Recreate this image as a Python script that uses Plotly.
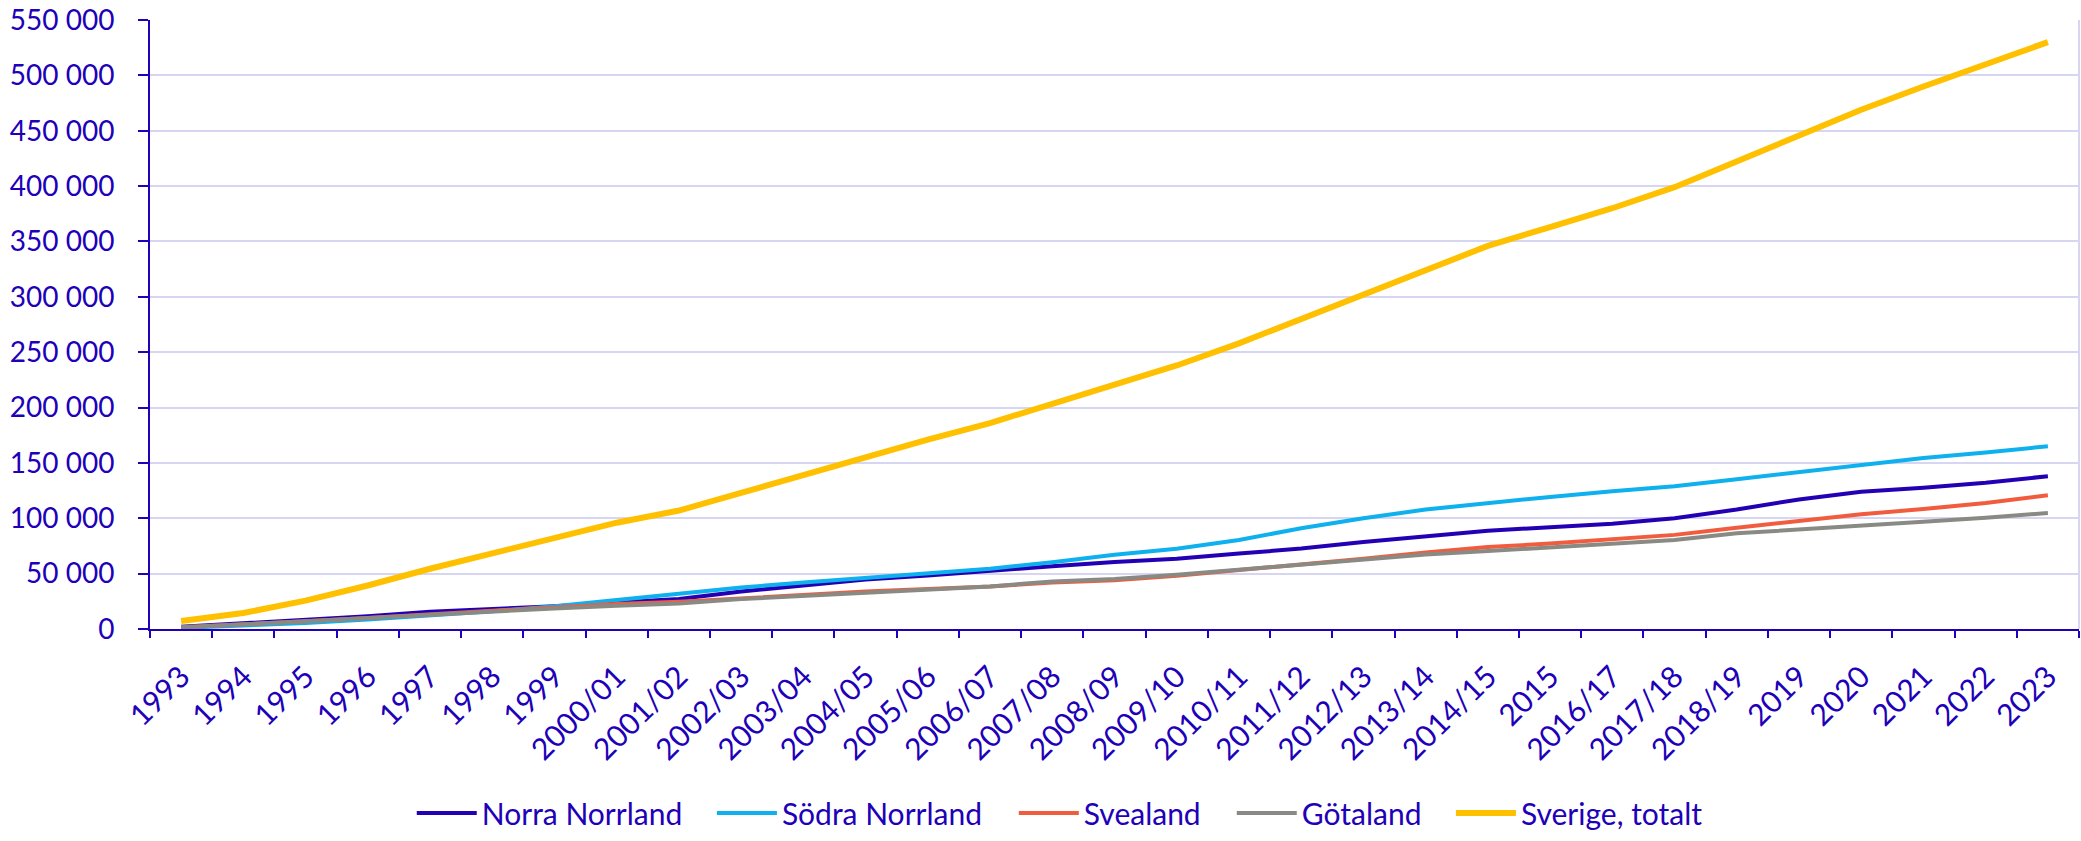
import plotly.graph_objects as go

categories = ["1993", "1994", "1995", "1996", "1997", "1998", "1999", "2000/01", "2001/02",
              "2002/03", "2003/04", "2004/05", "2005/06", "2006/07", "2007/08", "2008/09",
              "2009/10", "2010/11", "2011/12", "2012/13", "2013/14", "2014/15", "2015",
              "2016/17", "2017/18", "2018/19", "2019", "2020", "2021", "2022", "2023"]

norra_norrland = [2000, 5000, 8500, 11500, 15500, 18000, 20500, 24000, 27000, 33800, 39300,
                  44800, 48400, 52100, 56700, 60500, 63500, 68100, 72700, 78600, 83200, 88700,
                  91900, 95000, 100100, 107900, 117000, 123900, 127500, 132100, 138000]
sodra_norrland = [1000, 3000, 5500, 8500, 12000, 16000, 20500, 26000, 31500, 37500, 42000,
                  46200, 49800, 54400, 60300, 67000, 72500, 80400, 91000, 100100, 107900, 113800,
                  119300, 124500, 128900, 135300, 141700, 149000, 154500, 159500, 165000]
svealand = [1500, 4000, 7000, 10000, 13500, 16500, 19500, 22500, 24500, 27900, 30600,
            33800, 36100, 38400, 42000, 44100, 48000, 53000, 57600, 63500, 69000, 74000,
            77200, 80900, 85000, 91400, 97800, 103700, 108300, 113800, 120700]
gotaland = [1500, 4000, 7000, 10000, 13000, 16000, 18500, 21000, 23000, 27000, 30000,
            32900, 35600, 38400, 43000, 45200, 49000, 53500, 58000, 62600, 67200, 70400,
            73600, 76800, 80400, 86400, 89600, 93200, 96900, 100500, 104700]
sverige_totalt = [7300, 14500, 25600, 39300, 54400, 68100, 81800, 96000, 107000, 123000, 140000,
                  155000, 171000, 186000, 203000, 220000, 238000, 258000, 280000, 303000, 325000,
                  346000, 363000, 380000, 399000, 422000, 445000, 469000, 490000, 510000, 530000]

y_ticks = list(range(0, 550001, 50000))
y_tick_labels = [f"{v:,}".replace(",", " ") for v in y_ticks]

series = [
    ("Norra Norrland", norra_norrland, "#2400B4", 4.0),
    ("Södra Norrland", sodra_norrland, "#0FB0EE", 4.0),
    ("Svealand", svealand, "#F25C3E", 4.0),
    ("Götaland", gotaland, "#8A8A84", 4.0),
    ("Sverige, totalt", sverige_totalt, "#FFC000", 6.0),
]
# legend entry positions (paper x) for each series
legend_x = [0.1357, 0.2913, 0.4478, 0.5608, 0.6744]

text_color = "#2000B8"
grid_color = "#D6D6F2"

fig = go.Figure()
legend_layout = {}
for i, ((name, vals, color, width), lx) in enumerate(zip(series, legend_x)):
    key = "legend" if i == 0 else f"legend{i + 1}"
    fig.add_trace(go.Scatter(x=categories, y=vals, name=name, mode="lines",
                             line=dict(color=color, width=width), legend=key))
    legend_layout[key] = dict(orientation="h", x=lx, xanchor="left", y=-0.302,
                              yanchor="middle", font=dict(size=30, color=text_color),
                              itemwidth=60, bgcolor="rgba(0,0,0,0)")

fig.update_layout(
    width=2081,
    height=841,
    autosize=False,
    paper_bgcolor="white",
    plot_bgcolor="white",
    margin=dict(l=150, r=2, t=20, b=203),
    font=dict(family="Lato, Carlito, sans-serif", color=text_color, size=28),
    showlegend=True,
    shapes=[dict(type="line", xref="paper", yref="paper", x0=1, x1=1, y0=0, y1=1,
                 line=dict(color=grid_color, width=2))],
    **legend_layout,
)

fig.update_xaxes(
    type="category",
    range=[-0.5, len(categories) - 0.5],
    tickangle=-45,
    showgrid=False,
    showline=True, linecolor=text_color, linewidth=2,
    ticks="outside", ticklen=7, tickwidth=2, tickcolor=text_color,
    tickson="boundaries",
    ticklabelstandoff=16,
    tickfont=dict(size=30, color=text_color),
    automargin=False,
)
fig.update_yaxes(
    range=[0, 550000],
    tickvals=y_ticks, ticktext=y_tick_labels,
    showgrid=True, gridcolor=grid_color, gridwidth=2,
    showline=True, linecolor=text_color, linewidth=2,
    ticks="outside", ticklen=10, tickwidth=2, tickcolor=text_color,
    ticklabelstandoff=18,
    tickfont=dict(size=28, color=text_color),
    zeroline=False,
    automargin=False,
)

fig.write_html(
    "out.html",
    config={"responsive": False, "displayModeBar": False},
    post_script="document.body.style.margin='0';document.body.style.overflow='hidden';",
)
